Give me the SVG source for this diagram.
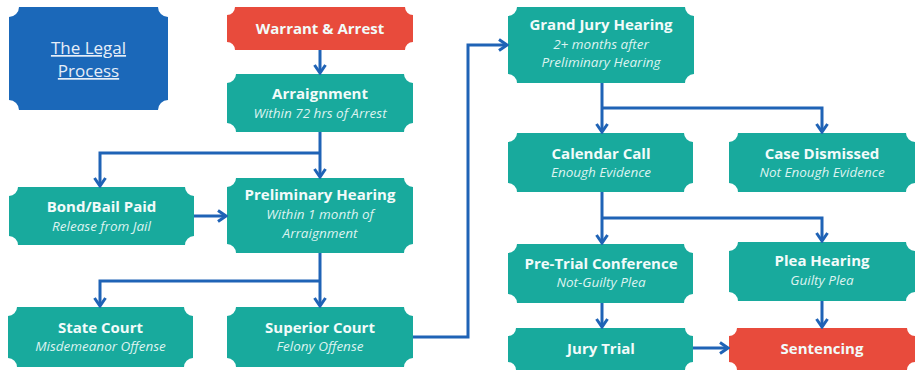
<svg xmlns="http://www.w3.org/2000/svg" width="918" height="371" viewBox="0 0 918 371">
<style>
.teal{fill:#18aa9d}
.red{fill:#e84b3c}
.blue{fill:#1b68b9}
.t{font-family:"Open Sans","Liberation Sans",sans-serif;font-weight:700;font-size:15px;fill:#f2fbfa;text-anchor:middle}
.s{font-family:"Open Sans","Liberation Sans",sans-serif;font-style:italic;font-size:13.5px;fill:#dcf3f0;text-anchor:middle}
.h{font-family:"Open Sans","Liberation Sans",sans-serif;font-size:17px;fill:#e6eef8;text-anchor:middle;text-decoration:underline}
.c{fill:none;stroke:#1f63b6;stroke-width:3;marker-end:url(#ah)}
</style>
<defs>
<marker id="ah" viewBox="0 0 12 14" refX="10" refY="7" markerWidth="12" markerHeight="14" markerUnits="userSpaceOnUse" orient="auto">
<path d="M2,1.5 L10,7 L2,12.5" fill="none" stroke="#1f63b6" stroke-width="3"/>
</marker>
</defs>
<rect width="918" height="371" fill="#ffffff"/>
<g id="title">
<path class="blue" d="M19,7 H158 A10 10 0 0 0 168,17 V100 A10 10 0 0 0 158,110 H19 A10 10 0 0 0 9,100 V17 A10 10 0 0 0 19,7 Z"/>
<text class="h" x="88.5" y="54">The Legal<tspan x="88.5" dy="23">Process</tspan></text>
</g>
<g id="warrant">
<path class="red" d="M235,7 H405 A8 8 0 0 0 413,15 V42 A8 8 0 0 0 405,50 H235 A8 8 0 0 0 227,42 V15 A8 8 0 0 0 235,7 Z"/>
<text class="t" x="320" y="34">Warrant &amp; Arrest</text>
</g>
<g id="arraignment">
<path class="teal" d="M236,74 H404 A9 9 0 0 0 413,83 V123 A9 9 0 0 0 404,132 H236 A9 9 0 0 0 227,123 V83 A9 9 0 0 0 236,74 Z"/>
<text class="t" x="320" y="99">Arraignment</text>
<text class="s" x="320" y="118">Within 72 hrs of Arrest</text>
</g>
<g id="bond">
<path class="teal" d="M18,187 H185 A9 9 0 0 0 194,196 V236 A9 9 0 0 0 185,245 H18 A9 9 0 0 0 9,236 V196 A9 9 0 0 0 18,187 Z"/>
<text class="t" x="101.5" y="212">Bond/Bail Paid</text>
<text class="s" x="101.5" y="231">Release from Jail</text>
</g>
<g id="preliminary">
<path class="teal" d="M236,178 H404 A9 9 0 0 0 413,187 V244 A9 9 0 0 0 404,253 H236 A9 9 0 0 0 227,244 V187 A9 9 0 0 0 236,178 Z"/>
<text class="t" x="320" y="200">Preliminary Hearing</text>
<text class="s" x="320" y="219">Within 1 month of<tspan x="320" dy="18.5">Arraignment</tspan></text>
</g>
<g id="state">
<path class="teal" d="M17,307 H184 A9 9 0 0 0 193,316 V358 A9 9 0 0 0 184,367 H17 A9 9 0 0 0 8,358 V316 A9 9 0 0 0 17,307 Z"/>
<text class="t" x="100.5" y="333">State Court</text>
<text class="s" x="100.5" y="351">Misdemeanor Offense</text>
</g>
<g id="superior">
<path class="teal" d="M236,307 H404 A9 9 0 0 0 413,316 V358 A9 9 0 0 0 404,367 H236 A9 9 0 0 0 227,358 V316 A9 9 0 0 0 236,307 Z"/>
<text class="t" x="320" y="333">Superior Court</text>
<text class="s" x="320" y="351">Felony Offense</text>
</g>
<g id="grandjury">
<path class="teal" d="M517,7 H685 A9 9 0 0 0 694,16 V74 A9 9 0 0 0 685,83 H517 A9 9 0 0 0 508,74 V16 A9 9 0 0 0 517,7 Z"/>
<text class="t" x="601" y="30">Grand Jury Hearing</text>
<text class="s" x="601" y="49">2+ months after<tspan x="601" dy="18">Preliminary Hearing</tspan></text>
</g>
<g id="calendar">
<path class="teal" d="M517,133 H684 A9 9 0 0 0 693,142 V183 A9 9 0 0 0 684,192 H517 A9 9 0 0 0 508,183 V142 A9 9 0 0 0 517,133 Z"/>
<text class="t" x="601" y="159">Calendar Call</text>
<text class="s" x="601" y="177">Enough Evidence</text>
</g>
<g id="dismissed">
<path class="teal" d="M738,133 H906 A9 9 0 0 0 915,142 V183 A9 9 0 0 0 906,192 H738 A9 9 0 0 0 729,183 V142 A9 9 0 0 0 738,133 Z"/>
<text class="t" x="822" y="159">Case Dismissed</text>
<text class="s" x="822" y="177">Not Enough Evidence</text>
</g>
<g id="pretrial">
<path class="teal" d="M517,244 H684 A9 9 0 0 0 693,253 V294 A9 9 0 0 0 684,303 H517 A9 9 0 0 0 508,294 V253 A9 9 0 0 0 517,244 Z"/>
<text class="t" x="601" y="269">Pre-Trial Conference</text>
<text class="s" x="601" y="287">Not-Guilty Plea</text>
</g>
<g id="plea">
<path class="teal" d="M738,242 H906 A9 9 0 0 0 915,251 V292 A9 9 0 0 0 906,301 H738 A9 9 0 0 0 729,292 V251 A9 9 0 0 0 738,242 Z"/>
<text class="t" x="822" y="266">Plea Hearing</text>
<text class="s" x="822" y="285">Guilty Plea</text>
</g>
<g id="jurytrial">
<path class="teal" d="M516,328 H685 A8 8 0 0 0 693,336 V362 A8 8 0 0 0 685,370 H516 A8 8 0 0 0 508,362 V336 A8 8 0 0 0 516,328 Z"/>
<text class="t" x="601" y="354">Jury Trial</text>
</g>
<g id="sentencing">
<path class="red" d="M737,328 H907 A8 8 0 0 0 915,336 V362 A8 8 0 0 0 907,370 H737 A8 8 0 0 0 729,362 V336 A8 8 0 0 0 737,328 Z"/>
<text class="t" x="822" y="354">Sentencing</text>
</g>
<g id="connectors">
<path class="c" d="M320,50 V73"/>
<path class="c" d="M320,132 V177"/>
<path class="c" d="M320,153 H100 V186"/>
<path class="c" d="M194,216 H226"/>
<path class="c" d="M320,253 V306"/>
<path class="c" d="M320,281 H100 V306"/>
<path class="c" d="M413,337 H468 V45 H507"/>
<path class="c" d="M602,83 V132"/>
<path class="c" d="M602,108 H822 V132"/>
<path class="c" d="M602,192 V243"/>
<path class="c" d="M602,218 H822 V241"/>
<path class="c" d="M602,303 V327"/>
<path class="c" d="M822,301 V327"/>
<path class="c" d="M693,348 H728"/>
</g>
</svg>
